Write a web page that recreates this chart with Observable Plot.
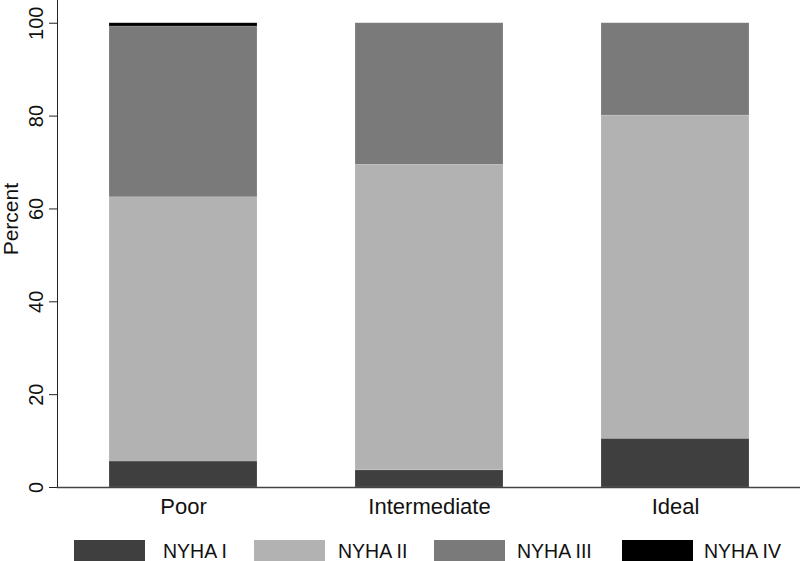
<!DOCTYPE html>
<html>
<head>
<meta charset="utf-8">
<script src="https://cdn.jsdelivr.net/npm/d3@7"></script>
<script src="https://cdn.jsdelivr.net/npm/@observablehq/plot@0.6"></script>
<style>
  html, body { margin: 0; padding: 0; background: #fff; overflow: hidden; }
  #chart { width: 800px; height: 561px; position: relative; font-family: "Liberation Sans", Arial, sans-serif; }
  #legend { position: relative; height: 34px; }
  .sw { position: absolute; top: 13px; width: 71px; height: 26px; }
  .lab { position: absolute; top: 15px; height: 19px; line-height: 19px; font-family: "Liberation Sans", Arial, sans-serif; font-size: 19.5px; color: #111; white-space: nowrap; }
</style>
</head>
<body>
<div id="chart"></div>
<script>
const categories = ["Poor", "Intermediate", "Ideal"];
const classes = ["NYHA I", "NYHA II", "NYHA III", "NYHA IV"];
const nyha1 = [5.6, 3.7, 10.5];
const nyha2 = [56.9, 65.8, 69.6];
const nyha3 = [36.8, 30.5, 19.9];
const nyha4 = [0.7, 0.0, 0.0];
const colors = ["#3f3f3f", "#b2b2b2", "#7a7a7a", "#000000"];
const yTicks = [0, 20, 40, 60, 80, 100];

const series = [nyha1, nyha2, nyha3, nyha4];
const data = [];
classes.forEach((c, j) => categories.forEach((cat, i) => data.push({cat, cls: c, value: series[j][i]})));

const plot = Plot.plot({
  width: 800,
  height: 527,
  marginLeft: 57,
  marginRight: 0,
  marginTop: 0,
  marginBottom: 40,
  style: {fontFamily: "'Liberation Sans', Arial, sans-serif", background: "#fff"},
  x: {domain: categories, paddingInner: 0.4, paddingOuter: 0.21, label: null},
  y: {domain: [0, 104.9], label: null},
  color: {domain: classes, range: colors},
  marks: [
    Plot.barY(data, {x: "cat", y: "value", fill: "cls", order: classes, stroke: "#ffffff", strokeOpacity: 0.25, strokeWidth: 0.6}),
    Plot.axisX({tickSize: 0, tickPadding: 11, fontSize: 22, fill: "#111"}),
    Plot.axisY({ticks: yTicks, tickSize: 8, tickRotate: -90, tickPadding: 7, fontSize: 20, fill: "#111", stroke: "#222", label: null}),
    Plot.text(["Percent"], {frameAnchor: "left", dx: -46, rotate: -90, fontSize: 21, fill: "#111", y: [50]}),
    Plot.frame({anchor: "left", stroke: "#222"}),
    Plot.frame({anchor: "bottom", stroke: "#444", strokeWidth: 1.5})
  ]
});
const chart = document.getElementById("chart");
chart.appendChild(plot);

const swatchX = [74, 254, 434, 622];
const labelX = [163, 338, 517, 704];
const legend = document.createElement("div");
legend.id = "legend";
classes.forEach((c, j) => {
  const sw = document.createElement("div");
  sw.className = "sw";
  sw.style.left = swatchX[j] + "px";
  sw.style.background = colors[j];
  const lab = document.createElement("span");
  lab.className = "lab";
  lab.style.left = labelX[j] + "px";
  lab.textContent = c;
  legend.appendChild(sw); legend.appendChild(lab);
});
chart.appendChild(legend);
</script>
</body>
</html>
